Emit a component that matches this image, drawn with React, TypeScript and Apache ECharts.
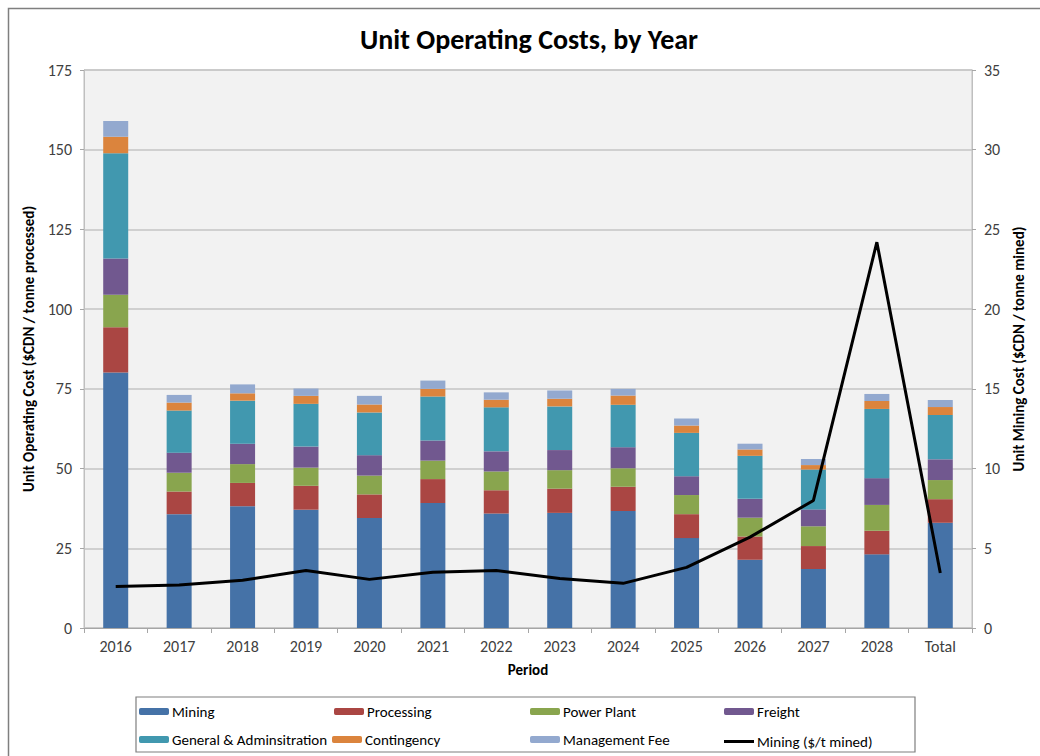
import React, { useEffect, useRef } from "react";
import * as echarts from "echarts";

const categories = ["2016", "2017", "2018", "2019", "2020", "2021", "2022", "2023", "2024", "2025", "2026", "2027", "2028", "Total"];
const mining = [80.1, 35.7, 38.2, 37.1, 34.5, 39.2, 35.9, 36.1, 36.7, 28.2, 21.4, 18.5, 23.1, 33.0];
const processing = [14.2, 7.1, 7.3, 7.5, 7.4, 7.5, 7.3, 7.6, 7.6, 7.5, 7.3, 7.2, 7.4, 7.4];
const powerPlant = [10.2, 5.9, 5.9, 5.7, 5.9, 5.8, 5.9, 5.8, 5.8, 6.0, 5.9, 6.2, 8.1, 6.0];
const freight = [11.4, 6.3, 6.4, 6.6, 6.4, 6.3, 6.3, 6.3, 6.6, 5.9, 5.9, 5.3, 8.4, 6.5];
const generalAdmin = [33.0, 13.2, 13.5, 13.4, 13.4, 13.8, 13.8, 13.7, 13.3, 13.6, 13.5, 12.5, 21.7, 13.9];
const contingency = [5.2, 2.5, 2.3, 2.5, 2.5, 2.4, 2.4, 2.4, 2.9, 2.3, 2.0, 1.4, 2.5, 2.5];
const managementFee = [4.9, 2.4, 2.8, 2.3, 2.7, 2.6, 2.3, 2.6, 2.1, 2.2, 1.8, 1.9, 2.2, 2.2];
const miningPerTonne = [2.6, 2.7, 3.0, 3.6, 3.05, 3.5, 3.6, 3.1, 2.8, 3.8, 5.7, 8.0, 24.2, 3.45];

const FONT = "Carlito, Lato, 'Open Sans', sans-serif";

const barSeries = [
  { name: "Mining", data: mining, color: "#4572A7" },
  { name: "Processing", data: processing, color: "#AA4643" },
  { name: "Power Plant", data: powerPlant, color: "#89A54E" },
  { name: "Freight", data: freight, color: "#71588F" },
  { name: "General & Adminsitration", data: generalAdmin, color: "#4198AF" },
  { name: "Contingency", data: contingency, color: "#DB843D" },
  { name: "Management Fee", data: managementFee, color: "#93A9CF" },
];

const legendPos = [
  { name: "Mining", left: 139, top: 704 },
  { name: "Processing", left: 334, top: 704 },
  { name: "Power Plant", left: 530, top: 704 },
  { name: "Freight", left: 724, top: 704 },
  { name: "General & Adminsitration", left: 139, top: 732 },
  { name: "Contingency", left: 332, top: 732 },
  { name: "Management Fee", left: 530, top: 732 },
  { name: "Mining ($/t mined)", left: 724, top: 732 },
];

export default function App() {
  const ref = useRef<HTMLDivElement>(null);
  useEffect(() => {
    if (!ref.current) return;
    const chart = echarts.init(ref.current, null, { renderer: "svg" });
    const series: any[] = barSeries.map((s) => ({
      name: s.name,
      type: "bar",
      stack: "cost",
      barWidth: 25,
      data: s.data,
      itemStyle: { color: s.color },
      yAxisIndex: 0,
    }));
    series.push({
      name: "Mining ($/t mined)",
      type: "line",
      yAxisIndex: 1,
      data: miningPerTonne,
      symbol: "none",
      showSymbol: false,
      lineStyle: { color: "#000000", width: 3 },
      itemStyle: { color: "#000000" },
      z: 5,
    });
    const isLine = (n: string) => n === "Mining ($/t mined)";
    chart.setOption({
      animation: false,
      backgroundColor: "#ffffff",
      textStyle: { fontFamily: FONT },
      title: {
        text: "Unit Operating Costs, by Year",
        left: 524,
        textAlign: "center",
        top: 20,
        textStyle: { fontFamily: FONT, fontSize: 28, fontWeight: "bold", color: "#000000" },
      },
      legend: legendPos.map((l) => ({
        data: [isLine(l.name) ? { name: l.name, icon: "rect" } : l.name],
        left: l.left,
        top: isLine(l.name) ? l.top + 2 : l.top,
        padding: 0,
        itemWidth: 30,
        itemHeight: isLine(l.name) ? 3 : 7,
        itemGap: 0,
        selectedMode: false,
        textStyle: { fontFamily: FONT, fontSize: 15, color: "#000000", padding: [0, 0, 0, -2] },
      })),
      grid: {
        left: 84,
        right: 68,
        top: 70,
        bottom: 128,
        show: true,
        backgroundColor: "#f2f2f2",
        borderColor: "#bfbfbf",
        borderWidth: 1,
      },
      xAxis: {
        type: "category",
        data: categories,
        name: "Period",
        nameLocation: "middle",
        nameGap: 34,
        nameTextStyle: { fontFamily: FONT, fontSize: 15, fontWeight: "bold", color: "#000000" },
        axisLine: { show: true, lineStyle: { color: "#a6a6a6", width: 1 } },
        axisTick: { show: true, alignWithLabel: false, length: 5, lineStyle: { color: "#a6a6a6" } },
        axisLabel: { margin: 10, fontSize: 16, color: "#404040", fontFamily: FONT },
      },
      yAxis: [
        {
          type: "value",
          min: 0,
          max: 175,
          interval: 25,
          name: "Unit Operating Cost ($CDN / tonne processed)",
          nameLocation: "middle",
          nameRotate: 90,
          nameGap: 34,
          nameTextStyle: { fontFamily: FONT, fontSize: 15, fontWeight: "bold", color: "#000000" },
          axisLine: { show: true, lineStyle: { color: "#bfbfbf", width: 1 } },
          axisTick: { show: true, length: 4, lineStyle: { color: "#a6a6a6" } },
          axisLabel: { margin: 12, fontSize: 16, color: "#404040", fontFamily: FONT },
          splitLine: { show: true, lineStyle: { color: "#c4c4c4", width: 1.5 } },
        },
        {
          type: "value",
          min: 0,
          max: 35,
          interval: 5,
          position: "right",
          name: "Unit Mining Cost ($CDN / tonne mined)",
          nameLocation: "middle",
          nameRotate: 90,
          nameGap: 38,
          nameTextStyle: { fontFamily: FONT, fontSize: 15, fontWeight: "bold", color: "#000000" },
          axisLine: { show: true, lineStyle: { color: "#bfbfbf", width: 1 } },
          axisTick: { show: true, length: 4, lineStyle: { color: "#a6a6a6" } },
          axisLabel: { margin: 12, fontSize: 16, color: "#404040", fontFamily: FONT },
          splitLine: { show: false },
        },
      ],
      graphic: [
        {
          type: "rect",
          left: 6,
          top: 6,
          shape: { x: 0, y: 0, width: 1045, height: 760 },
          style: { fill: "none", stroke: "#7f7f7f", lineWidth: 1.5 },
          silent: true,
          z: -1,
        },
        {
          type: "rect",
          shape: { x: 136, y: 697, width: 779, height: 55 },
          style: { fill: "none", stroke: "#7f7f7f", lineWidth: 1.2 },
          silent: true,
        },
      ],
      series,
    });
    return () => chart.dispose();
  }, []);
  return (
    <div
      ref={ref}
      style={{ position: "fixed", left: 0, top: 0, width: 1040, height: 756 }}
    />
  );
}
